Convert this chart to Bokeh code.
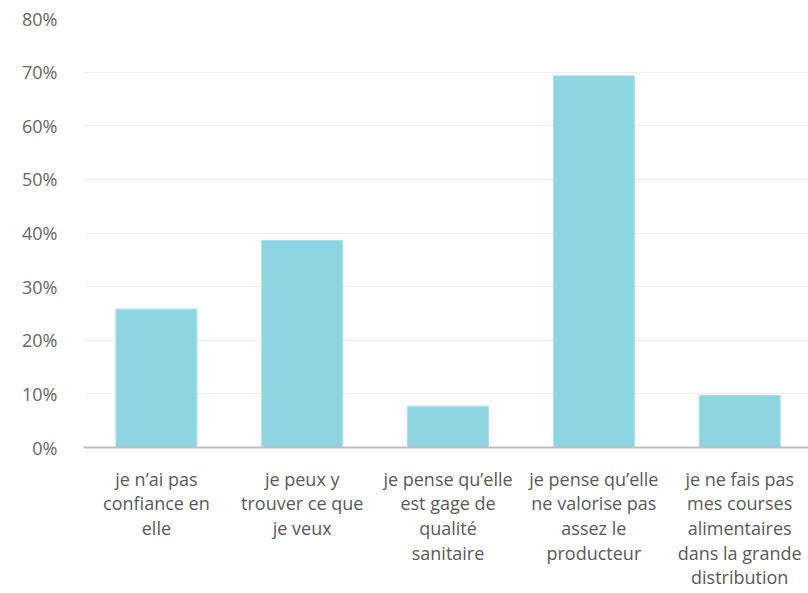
from bokeh.plotting import figure
from bokeh.models import Range1d, FixedTicker, NumeralTickFormatter
from bokeh.embed import file_html
from bokeh.resources import INLINE

categories = [
    "je n\u2019ai pas\nconfiance en\nelle",
    "je peux y\ntrouver ce que\nje veux",
    "je pense qu\u2019elle\nest gage de\nqualit\u00e9\nsanitaire",
    "je pense qu\u2019elle\nne valorise pas\nassez le\nproducteur",
    "je ne fais pas\nmes courses\nalimentaires\ndans la grande\ndistribution",
]
values = [0.258, 0.386, 0.077, 0.693, 0.097]
y_ticks = [0, 0.1, 0.2, 0.3, 0.4, 0.5, 0.6, 0.7, 0.8]

xs = list(range(1, len(categories) + 1))

p = figure(width=808, height=593, output_backend="svg", toolbar_location=None,
           x_range=Range1d(0.5, 5.472), y_range=Range1d(0, 0.8),
           min_border_left=83, min_border_right=0, min_border_top=18, min_border_bottom=146)
p.outline_line_color = None
p.background_fill_color = "white"
p.border_fill_color = "white"

p.vbar(x=xs, top=values, width=0.555, fill_color="#8dd5e0", line_color="#a6e0e8", line_width=1)

p.yaxis.ticker = FixedTicker(ticks=y_ticks)
p.yaxis.formatter = NumeralTickFormatter(format="0%")
p.yaxis.axis_line_color = None
p.yaxis.major_tick_line_color = None
p.yaxis.minor_tick_line_color = None
p.yaxis.major_label_text_font = "Open Sans"
p.yaxis.major_label_text_font_size = "18px"
p.yaxis.major_label_text_color = "#666666"
p.yaxis.major_label_standoff = 20

p.xaxis.ticker = FixedTicker(ticks=xs)
p.xaxis.major_label_overrides = {x: c for x, c in zip(xs, categories)}
p.xaxis.axis_line_color = "#bfbfbf"
p.xaxis.axis_line_width = 2
p.xaxis.major_tick_line_color = None
p.xaxis.minor_tick_line_color = None
p.xaxis.major_label_text_font = "Open Sans"
p.xaxis.major_label_text_font_size = "18px"
p.xaxis.major_label_text_color = "#595959"
p.xaxis.major_label_text_line_height = 1.03
p.xaxis.major_label_standoff = 13

p.xgrid.grid_line_color = None
p.ygrid.ticker = FixedTicker(ticks=y_ticks)
p.ygrid.grid_line_color = "#eeeeee"
p.ygrid.grid_line_width = 1

open("out.html", "w").write(file_html(p, INLINE))
